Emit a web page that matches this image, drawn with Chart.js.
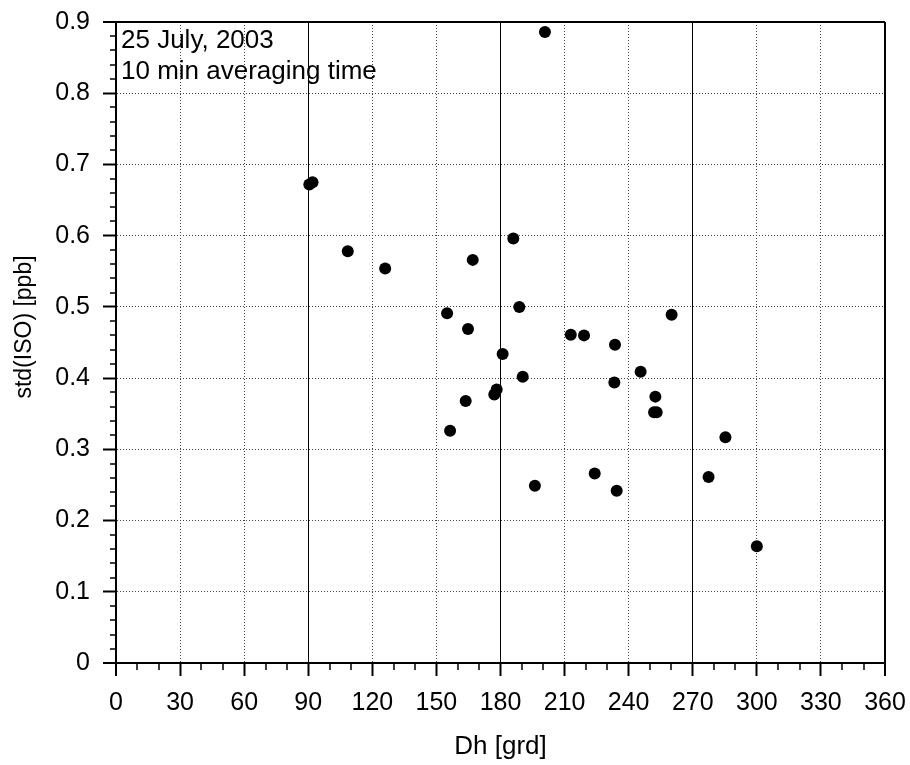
<!DOCTYPE html>
<html lang="en">
<head>
  <meta charset="UTF-8">
  <title>std(ISO) vs Dh - 25 July 2003</title>
  <script src="https://cdn.jsdelivr.net/npm/chart.js"></script>
  <style>
    body { margin: 0; background: #ffffff; }
    #wrap { width: 910px; height: 765px; }
  </style>
</head>
<body>
  <div id="wrap"><canvas id="mainChart" width="910" height="765"></canvas></div>
  <script>
    // wind direction (Dh, deg) and standard deviation of isoprene (ppb)
    const dh = [90.5, 92, 108.5, 126, 155, 156.4, 163.7, 164.8, 167, 177.1, 178.2, 181,
                186, 188.8, 190.4, 196.1, 200.8, 212.9, 219.1, 224.1, 233.3, 233.6, 234.4,
                245.6, 251.9, 253.1, 252.5, 260.1, 277.4, 285.3, 300];
    const stdIso = [0.672, 0.675, 0.578, 0.554, 0.491, 0.326, 0.368, 0.469, 0.566, 0.377, 0.384, 0.434,
                    0.596, 0.500, 0.402, 0.249, 0.886, 0.461, 0.460, 0.266, 0.394, 0.447, 0.242,
                    0.409, 0.352, 0.352, 0.374, 0.489, 0.261, 0.317, 0.164];
    const noteLines = ['25 July, 2003', '10 min averaging time'];
    const xTitle = 'Dh [grd]';
    const yTitle = 'std(ISO) [ppb]';

    const FONT = "'Liberation Sans', Arial, sans-serif";

    // vertical grid: solid at 90/180/270, frame at 0/360, dotted otherwise
    function xGridColor(c) {
      const v = c.tick ? c.tick.value : 0;
      return v % 90 === 0 ? '#000' : '#444';
    }
    function xGridWidth(c) {
      const v = c.tick ? c.tick.value : 0;
      if (v === 0 || v === 360) return 2;
      return 1;
    }
    function isEdgeY(v) {
      return Math.abs(v) < 1e-6 || Math.abs(v - 0.9) < 1e-6;
    }
    // no extra label overflow padding, the plot box is fixed
    function noPad(s) {
      s.paddingLeft = 0; s.paddingRight = 0; s.paddingTop = 0; s.paddingBottom = 0;
    }

    // minor ticks, the y title and the text note in the upper left corner
    const extras = {
      id: 'extras',
      afterDraw(chart) {
        const { ctx, scales: { x, y } } = chart;
        ctx.save();
        ctx.strokeStyle = '#000';
        ctx.lineWidth = 1.5;
        ctx.beginPath();
        for (let v = 10; v < 360; v += 10) {
          if (v % 30 === 0) continue;
          const px = Math.round(x.getPixelForValue(v));
          ctx.moveTo(px, y.bottom);
          ctx.lineTo(px, y.bottom + 7);
        }
        for (let i = 1; i < 45; i++) {
          if (i % 5 === 0) continue;
          const py = Math.round(y.getPixelForValue(i * 0.02));
          ctx.moveTo(x.left, py);
          ctx.lineTo(x.left - 6, py);
        }
        ctx.stroke();

        ctx.fillStyle = '#000';
        ctx.font = '26px ' + FONT;
        ctx.textBaseline = 'alphabetic';
        ctx.textAlign = 'left';
        noteLines.forEach((t, i) => ctx.fillText(t, x.left + 5, y.top + 26 + i * 31));

        ctx.font = '23px ' + FONT;
        ctx.textAlign = 'center';
        ctx.translate(31, 327);
        ctx.rotate(-Math.PI / 2);
        ctx.fillText(yTitle, 0, 0);
        ctx.restore();
      }
    };

    const ctx = document.getElementById('mainChart').getContext('2d');
    new Chart(ctx, {
      type: 'scatter',
      data: {
        datasets: [{
          data: dh.map((d, i) => ({ x: d, y: stdIso[i] })),
          pointRadius: 6,
          pointHoverRadius: 6,
          pointBackgroundColor: '#000',
          pointBorderWidth: 0
        }]
      },
      options: {
        responsive: false,
        animation: false,
        events: [],
        layout: { padding: { top: 22, right: 25, left: 0, bottom: 0 } },
        plugins: { legend: { display: false }, tooltip: { enabled: false } },
        scales: {
          x: {
            type: 'linear',
            min: 0,
            max: 360,
            afterFit: s => { s.height = 102; noPad(s); },
            ticks: {
              stepSize: 30,
              color: '#000',
              padding: 12,
              font: { family: FONT, size: 25 },
              maxRotation: 0
            },
            grid: {
              color: xGridColor,
              lineWidth: xGridWidth,
              tickLength: 13,
              tickColor: '#000',
              tickWidth: 2
            },
            border: {
              color: '#000',
              width: 2,
              dash: c => (c.tick && c.tick.value % 90 !== 0) ? [1, 2] : []
            },
            title: {
              display: true,
              text: xTitle,
              color: '#000',
              font: { family: FONT, size: 26 },
              padding: { top: 0, bottom: 3 }
            }
          },
          y: {
            type: 'linear',
            min: 0,
            max: 0.9,
            afterFit: s => { s.width = 116; noPad(s); },
            ticks: {
              stepSize: 0.1,
              color: '#000',
              padding: 13,
              font: { family: FONT, size: 25 },
              callback: v => String(Math.round(v * 10) / 10)
            },
            grid: {
              color: c => (c.tick && isEdgeY(c.tick.value)) ? '#000' : '#444',
              lineWidth: c => (c.tick && isEdgeY(c.tick.value)) ? 2 : 1,
              tickLength: 13,
              tickColor: '#000',
              tickWidth: 2
            },
            border: {
              color: '#000',
              width: 2,
              dash: c => (c.tick && !isEdgeY(c.tick.value)) ? [1, 2] : []
            },
            title: { display: false }
          }
        }
      },
      plugins: [extras]
    });
  </script>
</body>
</html>
